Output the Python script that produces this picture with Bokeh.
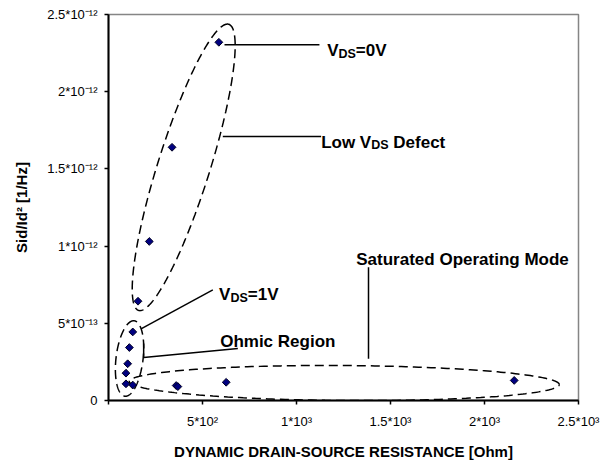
import numpy as np
from bokeh.plotting import figure
from bokeh.models import Range1d, FixedTicker, ColumnDataSource, CustomJSTickFormatter
from bokeh.core.properties import value
from bokeh.embed import file_html
from bokeh.resources import INLINE

# ---------------- data ----------------
resistance = [587, 338, 217, 157, 129, 111, 102, 93, 93, 129, 360, 369, 626, 2158]
noise = [2.32e-12, 1.64e-12, 1.03e-12, 0.643e-12, 0.444e-12, 0.343e-12, 0.238e-12,
         0.177e-12, 0.108e-12, 0.100e-12, 0.097e-12, 0.090e-12, 0.118e-12, 0.130e-12]

x_ticks = [0, 500, 1000, 1500, 2000, 2500]
x_tick_labels = ["", "5*10\u00b2", "1*10\u00b3", "1.5*10\u00b3", "2*10\u00b3", "2.5*10\u00b3"]
y_ticks = [0, 5e-13, 1e-12, 1.5e-12, 2e-12, 2.5e-12]
y_tick_labels = ["0", "5*10\u207b\u00b9\u00b3", "1*10\u207b\u00b9\u00b2", "1.5*10\u207b\u00b9\u00b2",
                 "2*10\u207b\u00b9\u00b2", "2.5*10\u207b\u00b9\u00b2"]

x_title = "DYNAMIC DRAIN-SOURCE RESISTANCE [Ohm]"
y_title = "Sid/Id\u00b2 [1/Hz]"

# region outlines: centre (data), semi-axes (px), angle (deg)
region_centers_x = [400, 112, 1254]
region_centers_y = [1.51e-12, 0.272e-12, 0.113e-12]
region_semi_a = [150, 38, 215]
region_semi_b = [26, 13.5, 17.5]
region_angle = [72.5, 83, -0.4]

# callout leader lines (data)
leader_x = [[617, 1122], [608, 1131], [173, 555], [187, 187, 688], [1383, 1383]]
leader_y = [[2.304e-12, 2.304e-12], [1.710e-12, 1.710e-12], [0.464e-12, 0.717e-12],
            [0.369e-12, 0.2785e-12, 0.337e-12], [0.863e-12, 0.270e-12]]

# callout texts: left x, centre y (data), pieces (text, is_subscript)
callout_x = [1163, 1131, 588, 594, 1318]
callout_y = [2.304e-12, 1.710e-12, 0.725e-12, 0.421e-12, 0.952e-12]
callout_pieces = [
    [("V", 0), ("DS", 1), ("=0V", 0)],
    [("Low V", 0), ("DS", 1), (" Defect", 0)],
    [("V", 0), ("DS", 1), ("=1V", 0)],
    [("Ohmic Region", 0)],
    [("Saturated Operating Mode", 0)],
]

# ---------------- geometry helpers ----------------
FRAME_W, FRAME_H = 470, 386
X_MAX, Y_MAX = 2500, 2.5e-12

def px_x(px):
    return px * X_MAX / FRAME_W

def px_y(px_down):
    return -px_down * Y_MAX / FRAME_H

ARIAL_B = {' ': 0.278, '=': 0.584, '0': 0.556, '1': 0.556, 'V': 0.667, 'D': 0.722,
           'S': 0.667, 'L': 0.611, 'o': 0.611, 'w': 0.778, 'e': 0.556, 'f': 0.333,
           'c': 0.556, 't': 0.333}

def text_w(s, size):
    return sum(ARIAL_B.get(ch, 0.6) for ch in s) * size

MAIN_SIZE, SUB_SIZE = 17, 12.5

p = figure(width=610, height=462, output_backend="svg", toolbar_location=None,
           x_range=Range1d(0, X_MAX), y_range=Range1d(0, Y_MAX),
           min_border_left=108, min_border_right=32, min_border_top=14, min_border_bottom=62,
           background_fill_color="white", border_fill_color="white")
p.grid.visible = False
p.outline_line_color = "#858585"
p.outline_line_width = 1.5

FONT = "Liberation Sans"
for ax in (p.xaxis[0], p.yaxis[0]):
    ax.axis_line_color = "black"
    ax.axis_line_width = 2
    ax.major_tick_line_color = "black"
    ax.major_tick_line_width = 1.5
    ax.major_tick_in = 0
    ax.major_tick_out = 4
    ax.minor_tick_line_color = None
    ax.major_label_text_font = FONT
    ax.major_label_text_font_size = "13px"
    ax.major_label_text_color = "black"
    ax.axis_label_text_font = FONT
    ax.axis_label_text_font_style = "bold"
    ax.axis_label_text_font_size = "15px"
    ax.axis_label_text_color = "black"

p.xaxis.ticker = FixedTicker(ticks=x_ticks)
p.yaxis.ticker = FixedTicker(ticks=y_ticks)
p.xaxis.formatter = CustomJSTickFormatter(
    args=dict(tks=x_ticks, labels=x_tick_labels, tol=1e-6),
    code="for (let i = 0; i < tks.length; i++) { if (Math.abs(tks[i] - tick) <= tol) return labels[i]; } return '';")
p.yaxis.formatter = CustomJSTickFormatter(
    args=dict(tks=y_ticks, labels=y_tick_labels, tol=1e-18),
    code="for (let i = 0; i < tks.length; i++) { if (Math.abs(tks[i] - tick) <= tol) return labels[i]; } return '';")
p.xaxis.axis_label = x_title
p.yaxis.axis_label = y_title
p.xaxis.major_label_standoff = 9
p.yaxis.major_label_standoff = 7
p.xaxis.axis_label_standoff = 11
p.yaxis.axis_label_standoff = 14

# region outlines
t = np.linspace(0, 2 * np.pi, 300)
for cx, cy, a, b, ang in zip(region_centers_x, region_centers_y, region_semi_a, region_semi_b, region_angle):
    th = np.radians(ang)
    ex, ey = a * np.cos(t), b * np.sin(t)
    rx = ex * np.cos(th) - ey * np.sin(th)
    ry = ex * np.sin(th) + ey * np.cos(th)
    p.line(cx + px_x(rx), cy - px_y(ry), line_color="black", line_width=1.5, line_dash="9 5")

# leader lines
p.multi_line(leader_x, leader_y, line_color="black", line_width=1.5)

# callout texts
main = dict(x=[], y=[], text=[])
sub = dict(x=[], y=[], text=[])
for x0, yc, pieces in zip(callout_x, callout_y, callout_pieces):
    adv = 0.0
    for s, is_sub in pieces:
        size = SUB_SIZE if is_sub else MAIN_SIZE
        lead = len(s) - len(s.lstrip(" "))
        adv += text_w(" " * lead, size)
        s2 = s.lstrip(" ")
        tgt = sub if is_sub else main
        tgt["x"].append(x0 + px_x(adv))
        tgt["y"].append(yc + px_y(9 if is_sub else 6))
        tgt["text"].append(s2)
        adv += text_w(s2, size)

p.text("x", "y", "text", source=ColumnDataSource(main), text_font=value(FONT),
       text_font_style="bold", text_font_size="17px", text_baseline="alphabetic",
       text_align="left", text_color="black")
p.text("x", "y", "text", source=ColumnDataSource(sub), text_font=value(FONT),
       text_font_style="bold", text_font_size="12.5px", text_baseline="alphabetic",
       text_align="left", text_color="black")

# data points
p.scatter(resistance, noise, marker="square", angle=np.pi / 4, size=5.5, fill_color="#000080",
          line_color="#000022", line_width=1)

open("out.html", "w").write(file_html(p, INLINE))
